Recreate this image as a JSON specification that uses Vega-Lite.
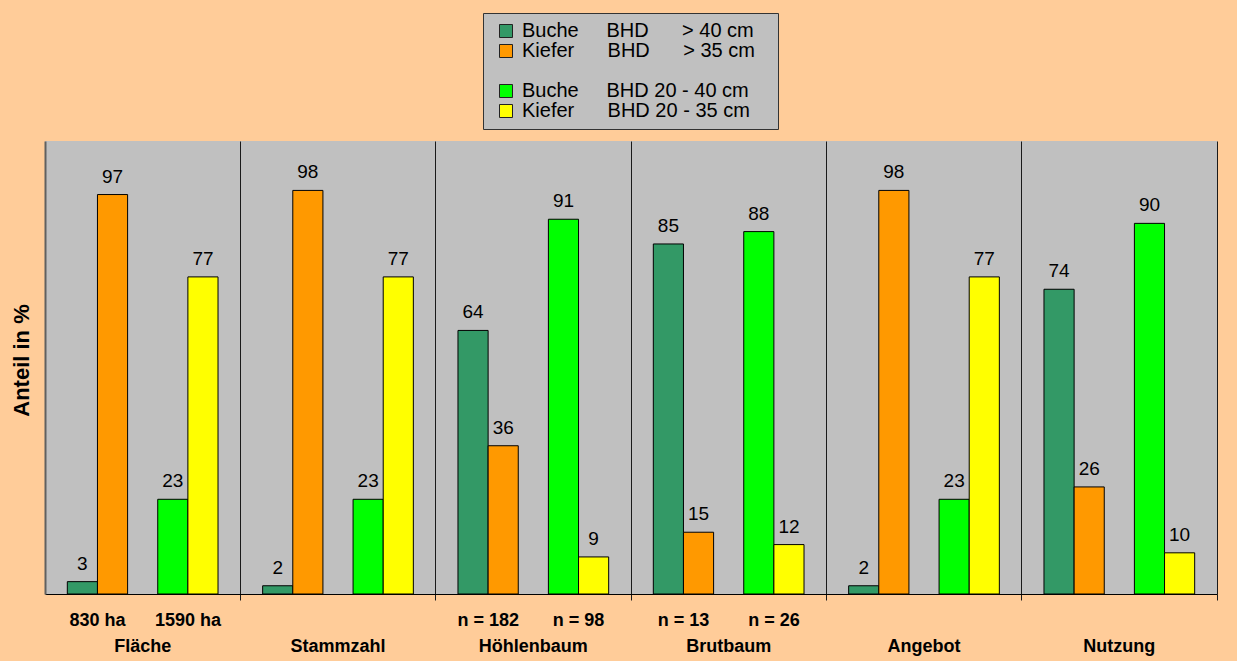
{
  "$schema": "https://vega.github.io/schema/vega-lite/v6.json",
  "autosize": "none",
  "width": 1172,
  "height": 453,
  "padding": {"left": 45, "top": 141, "right": 20, "bottom": 67},
  "background": "#FFCC99",
  "config": {"font": "Liberation Sans", "view": {"fill": "#C0C0C0", "stroke": null}},
  "data": {
    "values": [
      {"gruppe": "Fläche", "serie": "Buche >40", "wert": 3, "teil": ""},
      {"gruppe": "Fläche", "serie": "Kiefer >35", "wert": 97, "teil": "830 ha"},
      {"gruppe": "Fläche", "serie": "Buche 20-40", "wert": 23, "teil": ""},
      {"gruppe": "Fläche", "serie": "Kiefer 20-35", "wert": 77, "teil": "1590 ha"},
      {"gruppe": "Stammzahl", "serie": "Buche >40", "wert": 2, "teil": ""},
      {"gruppe": "Stammzahl", "serie": "Kiefer >35", "wert": 98, "teil": ""},
      {"gruppe": "Stammzahl", "serie": "Buche 20-40", "wert": 23, "teil": ""},
      {"gruppe": "Stammzahl", "serie": "Kiefer 20-35", "wert": 77, "teil": ""},
      {"gruppe": "Höhlenbaum", "serie": "Buche >40", "wert": 64, "teil": ""},
      {"gruppe": "Höhlenbaum", "serie": "Kiefer >35", "wert": 36, "teil": "n = 182"},
      {"gruppe": "Höhlenbaum", "serie": "Buche 20-40", "wert": 91, "teil": ""},
      {"gruppe": "Höhlenbaum", "serie": "Kiefer 20-35", "wert": 9, "teil": "n = 98"},
      {"gruppe": "Brutbaum", "serie": "Buche >40", "wert": 85, "teil": ""},
      {"gruppe": "Brutbaum", "serie": "Kiefer >35", "wert": 15, "teil": "n = 13"},
      {"gruppe": "Brutbaum", "serie": "Buche 20-40", "wert": 88, "teil": ""},
      {"gruppe": "Brutbaum", "serie": "Kiefer 20-35", "wert": 12, "teil": "n = 26"},
      {"gruppe": "Angebot", "serie": "Buche >40", "wert": 2, "teil": ""},
      {"gruppe": "Angebot", "serie": "Kiefer >35", "wert": 98, "teil": ""},
      {"gruppe": "Angebot", "serie": "Buche 20-40", "wert": 23, "teil": ""},
      {"gruppe": "Angebot", "serie": "Kiefer 20-35", "wert": 77, "teil": ""},
      {"gruppe": "Nutzung", "serie": "Buche >40", "wert": 74, "teil": ""},
      {"gruppe": "Nutzung", "serie": "Kiefer >35", "wert": 26, "teil": ""},
      {"gruppe": "Nutzung", "serie": "Buche 20-40", "wert": 90, "teil": ""},
      {"gruppe": "Nutzung", "serie": "Kiefer 20-35", "wert": 10, "teil": ""}
    ]
  },
  "encoding": {
    "x": {
      "field": "gruppe",
      "type": "nominal",
      "sort": ["Fläche", "Stammzahl", "Höhlenbaum", "Brutbaum", "Angebot", "Nutzung"],
      "scale": {"paddingInner": 0.2285, "paddingOuter": 0.11425},
      "axis": {
        "title": null,
        "bandPosition": 1.1481,
        "grid": true,
        "gridColor": "#1a1a1a",
        "gridOpacity": 1,
        "gridWidth": 1,
        "ticks": true,
        "tickSize": 6,
        "tickColor": "#1a1a1a",
        "tickWidth": 1,
        "domain": true,
        "domainColor": "#000000",
        "domainWidth": 1,
        "labelAngle": 0,
        "labelFont": "Liberation Sans",
        "labelFontSize": 18,
        "labelFontWeight": "bold",
        "labelColor": "#000000",
        "labelPadding": 37,
        "labelBaseline": "top"
      }
    },
    "xOffset": {
      "field": "serie",
      "type": "nominal",
      "scale": {
        "domain": ["Buche >40", "Kiefer >35", "leer", "Buche 20-40", "Kiefer 20-35"],
        "paddingInner": 0,
        "paddingOuter": 0
      }
    }
  },
  "layer": [
    {
      "mark": {"type": "bar", "stroke": "#000000", "strokeWidth": 1},
      "encoding": {
        "y": {
          "field": "wert",
          "type": "quantitative",
          "scale": {"domain": [0, 110], "nice": false},
          "axis": {"title": "Anteil in %", "labels": false, "ticks": false, "grid": false, "domainColor": "#606060", "domainWidth": 2, "titleFont": "Liberation Sans", "titleFontSize": 22, "titleFontWeight": "bold", "titleColor": "#000000", "titlePadding": 12, "titleY": 219}
        },
        "color": {
          "field": "serie",
          "type": "nominal",
          "scale": {
            "domain": ["Buche >40", "Kiefer >35", "leer", "Buche 20-40", "Kiefer 20-35"],
            "range": ["#339966", "#FF9900", "#C0C0C0", "#00FF00", "#FFFF00"]
          },
          "legend": {
            "title": null,
            "orient": "none",
            "legendX": 438,
            "legendY": -128,
            "direction": "vertical",
            "fillColor": "#C0C0C0",
            "strokeColor": "#333333",
            "padding": 8,
            "symbolType": "square",
            "symbolSize": 169,
            "symbolStrokeColor": "#222222",
            "symbolStrokeWidth": 1,
            "symbolOpacity": 1,
            "symbolOffset": 5,
            "labelFont": "Liberation Sans",
            "labelFontSize": 20,
            "labelColor": "#000000",
            "labelOffset": 6,
            "labelLimit": 400,
            "rowPadding": 0,
            "labelExpr": "datum.value === 'Buche >40' ? 'Buche\u00a0\u00a0\u00a0\u00a0\u00a0BHD\u00a0\u00a0\u00a0\u00a0\u00a0\u00a0>\u00a040\u00a0cm\u2800' : datum.value === 'Kiefer >35' ? 'Kiefer\u00a0\u00a0\u00a0\u00a0\u00a0\u00a0BHD\u00a0\u00a0\u00a0\u00a0\u00a0\u00a0>\u00a035\u00a0cm\u2800' : datum.value === 'Buche 20-40' ? 'Buche\u00a0\u00a0\u00a0\u00a0\u00a0BHD\u00a020\u00a0-\u00a040\u00a0cm\u2800' : datum.value === 'Kiefer 20-35' ? 'Kiefer\u00a0\u00a0\u00a0\u00a0\u00a0\u00a0BHD\u00a020\u00a0-\u00a035\u00a0cm\u2800' : '\u00a0'",
            "encoding": {
              "symbols": {
                "strokeOpacity": {"value": {"expr": "datum.value === 'leer' ? 0 : 1"}}
              }
            }
          }
        }
      }
    },
    {
      "mark": {"type": "text", "baseline": "alphabetic", "dy": -12, "fontSize": 19, "font": "Liberation Sans", "color": "#000000"},
      "encoding": {
        "y": {
          "field": "wert",
          "type": "quantitative",
          "scale": {"domain": [0, 110], "nice": false},
          "axis": {"title": "Anteil in %", "labels": false, "ticks": false, "grid": false, "domainColor": "#606060", "domainWidth": 2, "titleFont": "Liberation Sans", "titleFontSize": 22, "titleFontWeight": "bold", "titleColor": "#000000", "titlePadding": 12, "titleY": 219}
        },
        "text": {"field": "wert", "type": "quantitative"}
      }
    },
    {
      "transform": [{"filter": "datum.teil != ''"}],
      "mark": {"type": "text", "baseline": "alphabetic", "dy": 32, "dx": -15, "fontSize": 18, "fontWeight": "bold", "font": "Liberation Sans", "color": "#000000"},
      "encoding": {
        "y": {
          "datum": 0,
          "type": "quantitative",
          "scale": {"domain": [0, 110], "nice": false},
          "axis": {"title": "Anteil in %", "labels": false, "ticks": false, "grid": false, "domainColor": "#606060", "domainWidth": 2, "titleFont": "Liberation Sans", "titleFontSize": 22, "titleFontWeight": "bold", "titleColor": "#000000", "titlePadding": 12, "titleY": 219}
        },
        "text": {"field": "teil", "type": "nominal"}
      }
    }
  ]
}
